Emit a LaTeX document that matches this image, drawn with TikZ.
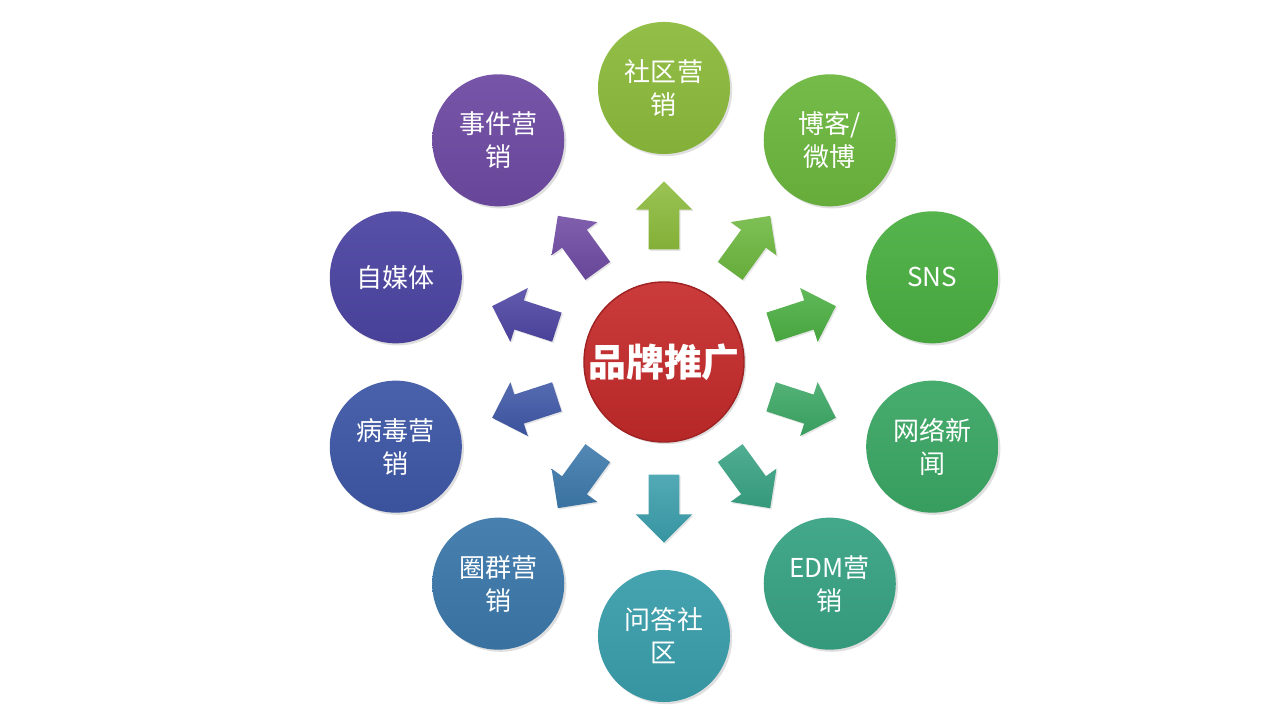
\documentclass[tikz,border=0pt]{standalone}
\usepackage{fontspec}
\setmainfont{Noto Sans CJK SC}
\usetikzlibrary{shapes.arrows,shadows}
\definecolor{brandred}{HTML}{C62A2B}
\definecolor{cshequ}{HTML}{8CBB3C}
\definecolor{cboke}{HTML}{6CB73E}
\definecolor{csns}{HTML}{4BAF42}
\definecolor{cnews}{HTML}{3BA764}
\definecolor{cedm}{HTML}{38A283}
\definecolor{cwenda}{HTML}{3A9EAB}
\definecolor{cquan}{HTML}{3C78AA}
\definecolor{cbingdu}{HTML}{3E57A6}
\definecolor{czimei}{HTML}{4D45A2}
\definecolor{cshijian}{HTML}{6E4AA2}
\tikzset{
  hub/.style={circle, minimum size=4cm, inner sep=0pt, text=white,
    top color=brandred!92!white, bottom color=brandred!92!black,
    draw=brandred!80!black, line width=1pt,
    font=\fontsize{27}{32}\selectfont\bfseries,
    drop shadow={opacity=0.25, shadow xshift=1.5pt, shadow yshift=-1.5pt}},
  spoke/.style={circle, minimum size=3.3cm, inner sep=0pt, text=white, align=center,
    top color=#1!94!white, bottom color=#1!94!black,
    font=\fontsize{18.5}{23.5}\selectfont,
    drop shadow={opacity=0.25, shadow xshift=1.5pt, shadow yshift=-1.5pt}},
  push/.style 2 args={single arrow, minimum height=1.7cm, inner xsep=0pt, inner ysep=0.375cm,
    single arrow head extend=0.325cm, rotate=#1, shading angle=-#1,
    top color=#2!88!white, bottom color=#2!94!black,
    drop shadow={opacity=0.2, shadow xshift=1pt, shadow yshift=-1pt}}
}
\begin{document}
\begin{tikzpicture}[x=0.025cm,y=0.025cm]
\useasboundingbox[fill=white] (-664,-358) rectangle (616,362);
% arrows from the hub
\node[push={90}{cshequ}] (a1) at (90:139) {};
\node[push={54}{cboke}] (a2) at (54:139) {};
\node[push={18}{csns}] (a3) at (18:139) {};
\node[push={-18}{cnews}] (a4) at (-18:139) {};
\node[push={-54}{cedm}] (a5) at (-54:139) {};
\node[push={-90}{cwenda}] (a6) at (-90:139) {};
\node[push={-126}{cquan}] (a7) at (-126:139) {};
\node[push={-162}{cbingdu}] (a8) at (-162:139) {};
\node[push={162}{czimei}] (a9) at (162:139) {};
\node[push={126}{cshijian}] (a10) at (126:139) {};
% hub
\node[hub] (brand) at (0,0) {品牌推广};
% outer ring
\node[spoke=cshequ] (shequ) at (90:282 and 274) {社区营\\销};
\node[spoke=cboke] (boke) at (54:282 and 274) {博客/\\微博};
\node[spoke=csns] (sns) at (18:282 and 274) {SNS};
\node[spoke=cnews] (news) at (-18:282 and 274) {网络新\\闻};
\node[spoke=cedm] (edm) at (-54:282 and 274) {EDM营\\销};
\node[spoke=cwenda] (wenda) at (-90:282 and 274) {问答社\\区};
\node[spoke=cquan] (quan) at (-126:282 and 274) {圈群营\\销};
\node[spoke=cbingdu] (bingdu) at (-162:282 and 274) {病毒营\\销};
\node[spoke=czimei] (zimei) at (162:282 and 274) {自媒体};
\node[spoke=cshijian] (shijian) at (126:282 and 274) {事件营\\销};
\end{tikzpicture}
\end{document}
